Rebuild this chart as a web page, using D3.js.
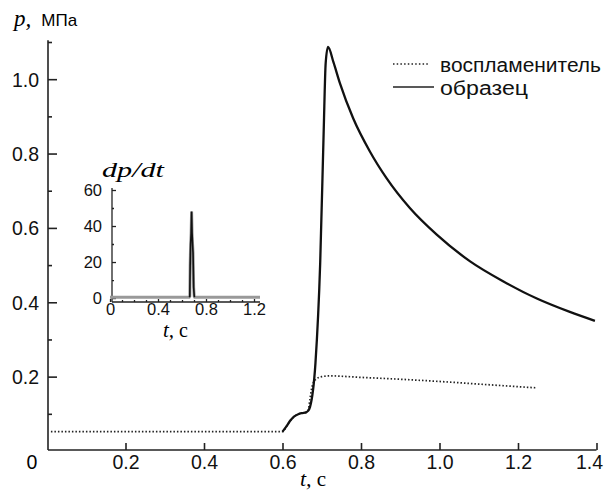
<!DOCTYPE html>
<html>
<head>
<meta charset="utf-8">
<script src="https://cdn.jsdelivr.net/npm/d3@7"></script>
<style>
  body { margin: 0; background: #fff; }
  svg { display: block; }
  .tick text { font-family: "Liberation Sans", Arial, sans-serif; fill: #111; }
  .serif { font-family: "Liberation Serif", "DejaVu Serif", serif; font-style: italic; }
  .sans { font-family: "Liberation Sans", Arial, sans-serif; }
</style>
</head>
<body>
<div id="chart"></div>
<script>
// образец (solid), t in s, p in MPa
const sampleT = [0.0, 0.6, 0.61, 0.62, 0.63, 0.64, 0.65, 0.66, 0.665, 0.67, 0.684, 0.696, 0.705, 0.71, 0.716,
  0.73, 0.746, 0.78, 0.823, 0.865, 0.925, 0.993, 1.078, 1.163, 1.248, 1.332, 1.396];
const sampleP = [0.052, 0.052, 0.066, 0.082, 0.093, 0.099, 0.102, 0.104, 0.108, 0.118, 0.237, 0.505, 0.863, 1.043, 1.087,
  1.045, 0.99, 0.895, 0.805, 0.734, 0.653, 0.582, 0.510, 0.456, 0.410, 0.374, 0.350];

// воспламенитель (dotted)
const igniterT = [0.01, 0.6, 0.61, 0.62, 0.63, 0.64, 0.65, 0.66, 0.665, 0.67, 0.675, 0.685, 0.70, 0.72,
  0.8, 0.9, 1.0, 1.1, 1.2, 1.245];
const igniterP = [0.052, 0.052, 0.066, 0.082, 0.093, 0.099, 0.102, 0.104, 0.108, 0.14, 0.172, 0.193, 0.200, 0.202,
  0.198, 0.193, 0.187, 0.180, 0.173, 0.170];

// inset dp/dt
const rateT = [0.0, 0.66, 0.665, 0.668, 0.672, 0.676, 0.68, 0.684, 0.688, 0.692, 0.697, 0.702, 0.706, 1.25];
const rateV = [0.5, 0.5, 1, 18, 30, 36, 48, 36, 30, 25, 6, 1, 0.5, 0.5];

const xTicks = [0.2, 0.4, 0.6, 0.8, 1.0, 1.2, 1.4];
const yTicks = [0.2, 0.4, 0.6, 0.8, 1.0];
const yMinor = [0.1, 0.3, 0.5, 0.7, 0.9, 1.1];
const insetXTicks = [0, 0.4, 0.8, 1.2];
const insetXMinor = [0.1, 0.2, 0.3, 0.5, 0.6, 0.7, 0.9, 1.0, 1.1];
const insetYTicks = [0, 20, 40, 60];
const insetYMinor = [10, 30, 50];

const legendNames = ['воспламенитель', 'образец'];

const width = 605, height = 491;
const svg = d3.select('#chart').append('svg')
  .attr('width', width).attr('height', height);

const x = d3.scaleLinear().domain([0, 1.4]).range([47, 596.5]);
const y = d3.scaleLinear().domain([0, 1.1]).range([451, 42]);

// main axes
const gx = svg.append('g').attr('transform', 'translate(0,450)')
  .call(d3.axisBottom(x).tickValues(xTicks).tickFormat(d3.format('.1f'))
    .tickSizeInner(-7).tickSizeOuter(0).tickPadding(5));
gx.select('.domain').attr('d', `M48,0H${x(1.4)}`);

const gy = svg.append('g').attr('transform', 'translate(48,0)')
  .call(d3.axisLeft(y).tickValues(yTicks).tickFormat(d3.format('.1f'))
    .tickSizeInner(-9).tickSizeOuter(0).tickPadding(9));
gy.select('.domain').attr('d', `M0,450V${y(1.105)}`);
svg.append('g').attr('transform', 'translate(48,0)')
  .call(d3.axisLeft(y).tickValues(yMinor).tickFormat('').tickSizeInner(-4).tickSizeOuter(0))
  .select('.domain').remove();

svg.selectAll('.domain, .tick line').attr('stroke', '#222').attr('stroke-width', 1.6);
gx.selectAll('.tick text').style('font-size', '19.5px');
gx.selectAll('.tick text').filter(d => d === 1.4).attr('text-anchor', 'end').attr('x', 6);
gy.selectAll('.tick text').style('font-size', '19.5px').attr('dy', '0.36em');

svg.append('text').attr('class', 'sans').attr('x', 32).attr('y', 469)
  .attr('text-anchor', 'middle').style('font-size', '19.5px').text('0');

// axis titles
const pt = svg.append('text').attr('x', 14).attr('y', 26);
pt.append('tspan').attr('class', 'serif').style('font-size', '23px').text('p,');
pt.append('tspan').attr('class', 'sans').attr('dx', 10).style('font-size', '17px').text('МПа');

const tt = svg.append('text').attr('x', 300).attr('y', 486);
tt.append('tspan').attr('class', 'serif').style('font-size', '22px').text('t,');
tt.append('tspan').attr('class', 'serif').style('font-style', 'normal').attr('dx', 5)
  .style('font-size', '21px').text('с');

// main lines
const line = d3.line().curve(d3.curveMonotoneX).x(d => x(d[0])).y(d => y(d[1]));
svg.append('path').datum(d3.zip(igniterT, igniterP))
  .attr('d', line).attr('fill', 'none').attr('stroke', '#222')
  .attr('stroke-width', 1.7).attr('stroke-dasharray', '1.5,2');
svg.append('path').datum(d3.zip(sampleT, sampleP).filter(d => d[0] >= 0.6))
  .attr('d', line).attr('fill', 'none').attr('stroke', '#111')
  .attr('stroke-width', 2.3).attr('stroke-linejoin', 'round');

// legend
const legend = svg.append('g').attr('class', 'legend');
legendNames.forEach((name, i) => {
  const ly = 64 + i * 23;
  legend.append('line').attr('x1', 393).attr('x2', i ? 434 : 430).attr('y1', ly).attr('y2', ly)
    .attr('stroke', '#222').attr('stroke-width', 1.6)
    .attr('stroke-dasharray', i ? null : '1.5,2.2');
  legend.append('text').attr('class', 'sans').attr('x', 440).attr('y', ly + 8)
    .style('font-size', '20px').attr('fill', '#111')
    .attr('textLength', i ? 88 : 161).attr('lengthAdjust', 'spacingAndGlyphs').text(name);
});

// inset
const ix = d3.scaleLinear().domain([0, 1.25]).range([110, 260]);
const iy = d3.scaleLinear().domain([-2.2, 60]).range([302, 190]);
const inset = svg.append('g');

const igx = inset.append('g').attr('transform', 'translate(0,302)')
  .call(d3.axisBottom(ix).tickValues(insetXTicks).tickFormat(d => d === 0 ? '0' : d3.format('.1f')(d))
    .tickSizeInner(-3).tickSizeOuter(0).tickPadding(1));
igx.select('.domain').attr('d', `M112,0H260`);
inset.append('g').attr('transform', 'translate(0,302)')
  .call(d3.axisBottom(ix).tickValues(insetXMinor).tickFormat('').tickSizeInner(-2).tickSizeOuter(0))
  .select('.domain').remove();

const igy = inset.append('g').attr('transform', 'translate(112,0)')
  .call(d3.axisLeft(iy).tickValues(insetYTicks).tickSizeInner(-4).tickSizeOuter(0).tickPadding(10));
igy.select('.domain').attr('d', `M0,302V188`);
inset.append('g').attr('transform', 'translate(112,0)')
  .call(d3.axisLeft(iy).tickValues(insetYMinor).tickFormat('').tickSizeInner(-2).tickSizeOuter(0))
  .select('.domain').remove();

inset.selectAll('.domain, .tick line').attr('stroke', '#222').attr('stroke-width', 1.3);
inset.selectAll('.tick text').style('font-size', '16.5px');

const iline = d3.line().x(d => ix(d[0])).y(d => iy(d[1]));
inset.append('path').datum(d3.zip(rateT, rateV))
  .attr('d', iline).attr('fill', 'none').attr('stroke', '#999').attr('stroke-width', 3);
inset.append('path').datum(d3.zip(rateT, rateV).filter(d => d[0] > 0.6 && d[0] < 0.75))
  .attr('d', iline).attr('fill', 'none').attr('stroke', '#111').attr('stroke-width', 1.6);

inset.append('text').attr('class', 'serif').attr('x', 102).attr('y', 177)
  .style('font-size', '21px').attr('textLength', 62).attr('lengthAdjust', 'spacingAndGlyphs').text('dp/dt');
const it = inset.append('text').attr('x', 163).attr('y', 337);
it.append('tspan').attr('class', 'serif').style('font-size', '21px').text('t,');
it.append('tspan').attr('class', 'serif').style('font-style', 'normal').attr('dx', 5)
  .style('font-size', '20px').text('с');
</script>
</body>
</html>
